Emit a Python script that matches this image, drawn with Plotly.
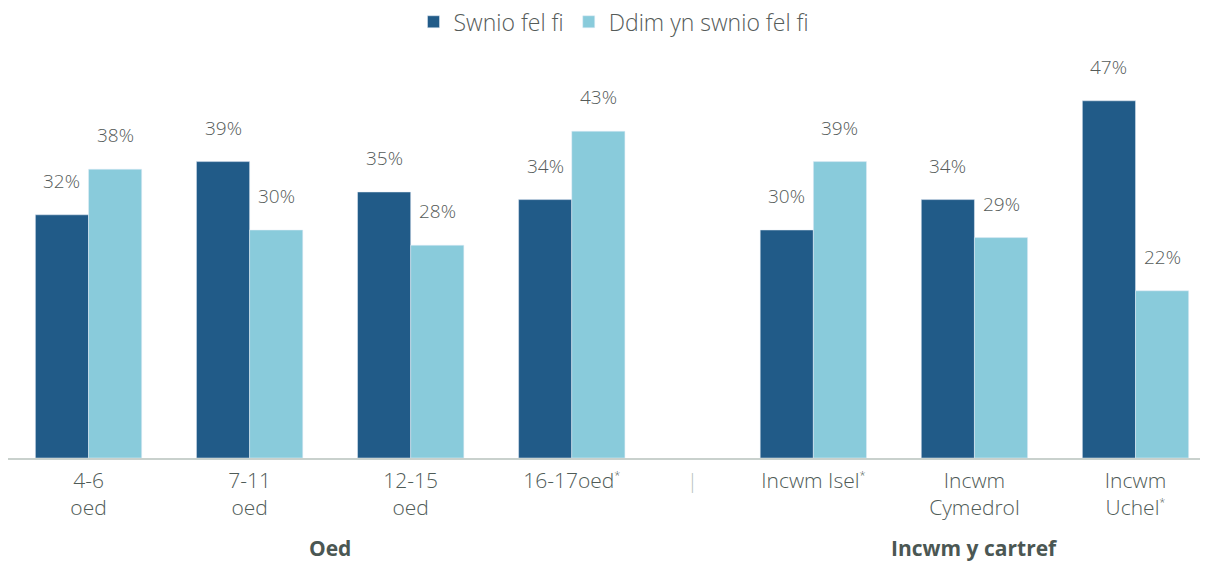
import plotly.graph_objects as go

AST = "<sup><span style='font-size:11px'>*</span></sup>"
categories = ["4-6<br>oed", "7-11<br>oed", "12-15<br>oed", "16-17oed" + AST,
              "Incwm Isel" + AST, "Incwm<br>Cymedrol", "Incwm<br>Uchel" + AST]
positions = [0, 1, 2, 3, 4.5, 5.5, 6.5]
swnio = [32, 39, 35, 34, 30, 34, 47]
ddim = [38, 30, 28, 43, 39, 29, 22]
series_names = ["Swnio fel fi", "Ddim yn swnio fel fi"]
group_labels = ["Oed", "Incwm y cartref"]
group_pos = [1.5, 5.5]
sep_pos = 3.75

DARK = "#215b88"
LIGHT = "#89cbdb"
TXT = "#555b59"
FONT = "Open Sans"
W = 0.33

fig = go.Figure()
fig.add_trace(go.Bar(x=positions, y=swnio, name=series_names[0], marker_color=DARK,
                     width=W, offset=-W, hoverinfo="y"))
fig.add_trace(go.Bar(x=positions, y=ddim, name=series_names[1], marker_color=LIGHT,
                     width=W, offset=0, hoverinfo="y"))

ann = []
for p, a, b in zip(positions, swnio, ddim):
    ann.append(dict(x=p - W / 2, y=a, text=f"{a}%", showarrow=False, xref="x", yref="y",
                    yanchor="middle", yshift=34,
                    font=dict(size=19, color=TXT, family=FONT, weight=300)))
    ann.append(dict(x=p + W / 2, y=b, text=f"{b}%", showarrow=False, xref="x", yref="y",
                    yanchor="middle", yshift=34,
                    font=dict(size=19, color=TXT, family=FONT, weight=300)))
for g, gp in zip(group_labels, group_pos):
    ann.append(dict(x=gp, y=0, xref="x", yref="paper", text=f"<b>{g}</b>", showarrow=False,
                    yanchor="middle", yshift=-90, font=dict(size=21, color="#4b5753", family=FONT)))

fig.update_layout(
    width=1200, height=553,
    margin=dict(l=0, r=0, t=32, b=103, autoexpand=False),
    plot_bgcolor="white", paper_bgcolor="white",
    barmode="overlay",
    font=dict(family=FONT, color=TXT),
    legend=dict(orientation="h", x=0.505, xanchor="center", y=0.975, yanchor="middle",
                yref="container", font=dict(size=23, color=TXT, family=FONT, weight=300),
                traceorder="normal", itemwidth=30),
    annotations=ann,
    showlegend=True,
)
fig.update_xaxes(range=[-0.5, 6.95], tickvals=positions + [sep_pos],
                 ticktext=categories + ["<span style='color:#b8c0bc'>|</span>"],
                 tickfont=dict(size=21, color="#4f5b57", family=FONT, weight=300),
                 ticklabelstandoff=3,
                 showline=True, linecolor="#c9d1cd", linewidth=1.5, showgrid=False,
                 ticks="", zeroline=False, automargin=False)
fig.update_yaxes(range=[0, 55], visible=False, showgrid=False, zeroline=False, automargin=False)

fig.write_html("out.html")
